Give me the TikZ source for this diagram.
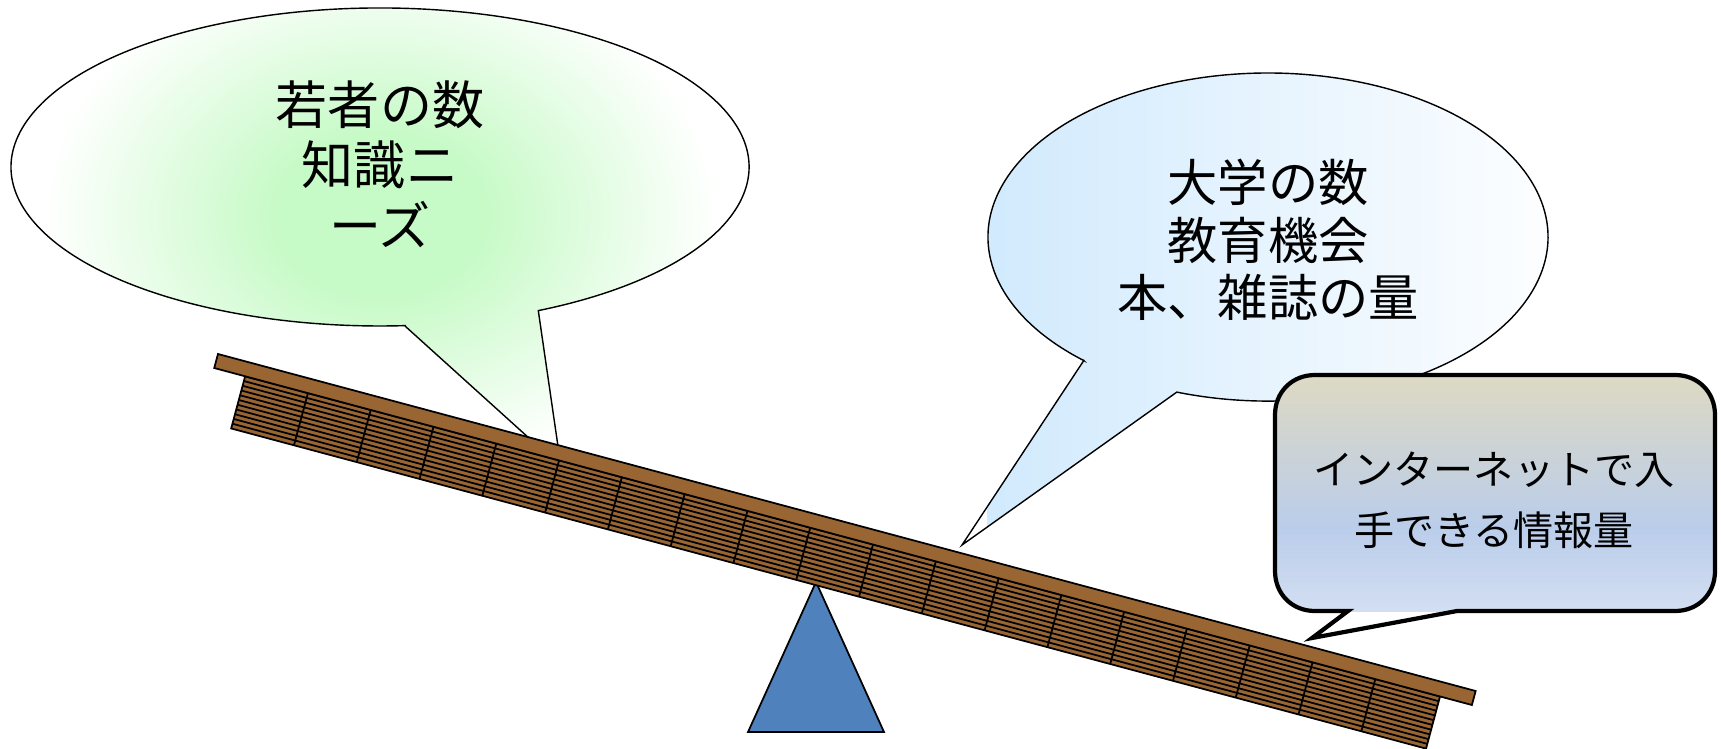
\documentclass[tikz,border=0pt]{standalone}
\usepackage{fontspec}
\newfontfamily\jpfont{Noto Sans CJK JP}
\definecolor{plankbrown}{RGB}{153,102,51}
\definecolor{fulcrumblue}{RGB}{79,129,189}
\definecolor{leafgreen}{RGB}{198,250,198}
\definecolor{skyblue}{RGB}{207,233,253}
\definecolor{boxtop}{RGB}{221,217,195}
\definecolor{boxmid}{RGB}{186,205,234}
\definecolor{boxbot}{RGB}{219,228,244}
% soft glow that reaches white well inside the shaded area
\pgfdeclareradialshading{greenglow}{\pgfpoint{0bp}{0bp}}%
  {color(0bp)=(leafgreen); color(6bp)=(leafgreen); color(20bp)=(white); color(50bp)=(white)}
\pgfdeclareverticalshading{boxfade}{100bp}%
  {color(0bp)=(boxbot); color(25bp)=(boxbot); color(46bp)=(boxmid); color(75bp)=(boxtop); color(100bp)=(boxtop)}

\begin{document}
\begin{tikzpicture}[x=0.01cm, y=-0.01cm,
  bubble/.style={draw=black, line width=0.4pt, fill=white, line join=miter},
  bubbletext/.style={align=center, inner sep=0pt, text=black},
  stripe/.style={line width=0.5pt, draw=black},
]
\useasboundingbox (0,0) rectangle (1721,748);

% left speech bubble (demand side)
\path[bubble, path picture={\shade[shading=greenglow]
    (-20,-110) rectangle (780,540);}]
  (405,326) -- (561,467) -- (538.3,310.6)
  arc[start angle=64.6, end angle=-273.9, x radius=369, y radius=159] -- cycle;

% right speech bubble (supply side)
\path[bubble, path picture={\shade[left color=skyblue, right color=white]
    (987,73) rectangle (1548,545);}]
  (1083.8,360.5) -- (962,545) -- (1176.8,392.1)
  arc[start angle=109, end angle=-228.9, x radius=280, y radius=164] -- cycle;

% fulcrum
\draw[fill=fulcrumblue, line width=0.5pt] (816,582) -- (884,732) -- (748,732) -- cycle;

% tilted beam with the stack of books under it
\begin{scope}[shift={(218,354)}, rotate=-15]
  \fill[plankbrown] (32,14.5) rectangle (1269,68.5);
  \foreach \k in {1,...,10}
    \draw[stripe] (32,14.5+\k*4.9091) -- (1269,14.5+\k*4.9091);
  \foreach \k in {1,...,18}
    \draw[stripe] (32+\k*65,14.5) -- (32+\k*65,68.5);
  \draw[stripe] (32,14.5) rectangle (1269,68.5);
  \draw[fill=plankbrown, line width=0.5pt] (0,0) rectangle (1302,14.5);
\end{scope}

% rounded callout box
\path[draw=black, line width=1.2pt, line join=miter,
      path picture={\shade[shading=boxfade] (1275,375) rectangle (1715,611);}]
  (1348,611) -- (1315,611) .. controls (1292,611) and (1275,594) .. (1275,571)
  -- (1275,415) .. controls (1275,392) and (1292,375) .. (1315,375)
  -- (1675,375) .. controls (1698,375) and (1715,392) .. (1715,415)
  -- (1715,571) .. controls (1715,594) and (1698,611) .. (1675,611)
  -- (1457,611) -- (1312,638) -- cycle;

% texts
\node[bubbletext, font=\jpfont\fontsize{14.8}{17.2}\selectfont] (demand) at (380,164)
  {若者の数\\知識ニ\\ーズ};
\node[bubbletext, font=\jpfont\fontsize{14.3}{16.3}\selectfont] (supply) at (1268,240)
  {大学の数\\教育機会\\本、雑誌の量};
\node[bubbletext, font=\jpfont\fontsize{11.4}{17.4}\selectfont] (internet) at (1494,500)
  {インターネットで入\\手できる情報量};
\end{tikzpicture}
\end{document}
